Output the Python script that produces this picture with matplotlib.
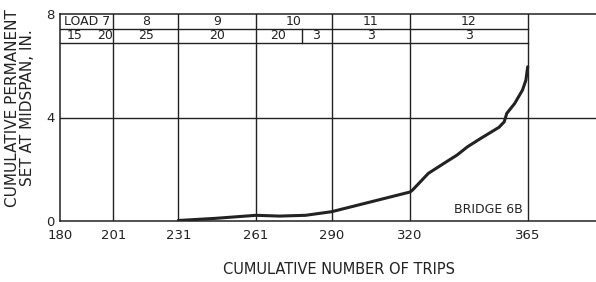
import numpy as np
import matplotlib
matplotlib.use("Agg")
import matplotlib.pyplot as plt

# =========================================================
# 1. DATA
# =========================================================

TRIP_TICKS = [180, 201, 231, 261, 290, 320, 365]

trips = [231, 245, 261, 270, 280, 290, 305, 320, 321, 327, 333, 338,
         342, 347, 354, 356, 357, 360, 363, 364.3, 365]
perm_set = [0.02, 0.10, 0.22, 0.19, 0.22, 0.36, 0.74, 1.12, 1.20, 1.84,
            2.23, 2.55, 2.87, 3.19, 3.62, 3.83, 4.16, 4.54, 5.06, 5.44, 5.96]

# load table: (label, start, end)
load_row = [("LOAD 7", 180, 201), ("8", 201, 231), ("9", 231, 261),
            ("10", 261, 290), ("11", 290, 320), ("12", 320, 365)]
count_labels = ["15", "20", "25", "20", "20", "3", "3", "3"]
count_centers = [185.9, 197.7, 216, 246, 269.4, 284, 305, 342.5]

# =========================================================
# 2. SCALE (axis in the original is not uniform)
# =========================================================

SCALE_TRIPS = [100, 180, 201, 231, 261, 290, 320, 365, 500]
SCALE_POS = [-143.2, 60, 113.3, 178.3, 256, 331.7, 410, 527.7, 880.9]


def fwd(x):
    return np.interp(x, SCALE_TRIPS, SCALE_POS)


def inv(p):
    return np.interp(p, SCALE_POS, SCALE_TRIPS)


INK = "#222222"
W, H = 596, 282

fig = plt.figure(figsize=(W / 100, H / 100), dpi=100)
ax = fig.add_axes([60 / W, (H - 221) / H, (W - 60) / W, 207 / H])
ax.set_xscale("function", functions=(fwd, inv))
ax.set_xlim(180, 391.1)
ax.set_ylim(0, 8)

ax.spines["right"].set_visible(False)
for side in ["left", "top", "bottom"]:
    ax.spines[side].set_color(INK)
    ax.spines[side].set_linewidth(1.1)

# grid
ax.axhline(4, color=INK, lw=1.0)
for t in TRIP_TICKS[1:]:
    ax.plot([t, t], [0, 8], color=INK, lw=1.0)

# table rows
ROW1_BOTTOM = 7.41
ROW2_BOTTOM = 6.89
ax.plot([180, 365], [ROW1_BOTTOM, ROW1_BOTTOM], color=INK, lw=1.0)
ax.plot([180, 365], [ROW2_BOTTOM, ROW2_BOTTOM], color=INK, lw=1.0)
ax.plot([278.5, 278.5], [ROW2_BOTTOM, ROW1_BOTTOM], color=INK, lw=1.0)

for label, start, end in load_row:
    if label.startswith("LOAD"):
        x = start + 1.5
        ha = "left"
    else:
        x = inv((fwd(start) + fwd(end)) / 2)
        ha = "center"
    ax.text(x, (8 + ROW1_BOTTOM) / 2, label, ha=ha, va="center",
            fontsize=9, color=INK)

for label, c in zip(count_labels, count_centers):
    ax.text(c, (ROW1_BOTTOM + ROW2_BOTTOM) / 2, label, ha="center",
            va="center", fontsize=9, color=INK)

# curve
ax.plot(trips, perm_set, color=INK, lw=2.2, solid_capstyle="round")

ax.text(363, 0.45, "BRIDGE 6B", ha="right", va="center", fontsize=9,
        color=INK)

ax.set_xticks(TRIP_TICKS)
ax.set_xticklabels([str(t) for t in TRIP_TICKS])
ax.set_yticks([0, 4, 8])
ax.tick_params(length=0, labelsize=9.5, colors=INK)
ax.tick_params(axis="x", pad=6)
ax.tick_params(axis="y", pad=4)

fig.text(339 / W, (H - 270) / H, "CUMULATIVE NUMBER OF TRIPS",
         ha="center", va="center", fontsize=10.5, color=INK)
fig.text(20 / W, (H - 108) / H, "CUMULATIVE PERMANENT\nSET AT MIDSPAN, IN.",
         rotation=90, ha="center", va="center", fontsize=11, color=INK,
         linespacing=1.0)

fig.savefig("out.png", dpi=100)
